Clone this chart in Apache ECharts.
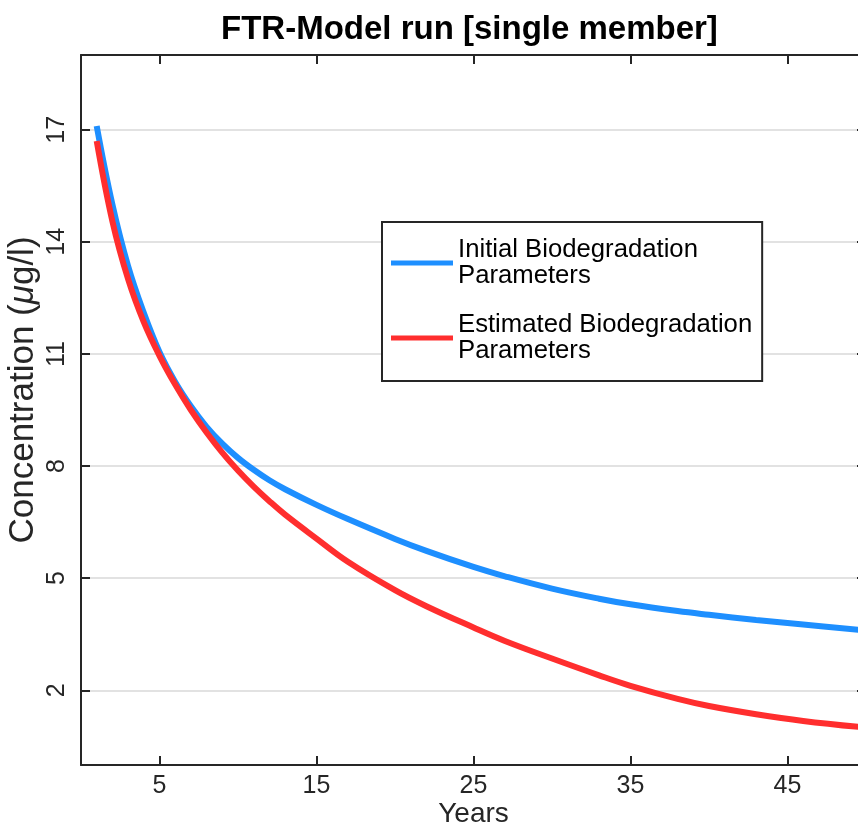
<!DOCTYPE html>
<html>
<head>
<meta charset="utf-8">
<script src="https://cdn.jsdelivr.net/npm/echarts@6/dist/echarts.min.js"></script>
<style>
  html, body { margin: 0; padding: 0; background: #fff; }
  #chart { width: 858px; height: 827px; }
</style>
</head>
<body>
<div id="chart"></div>
<script>
// 数据
const years = [1, 2, 3, 4, 5, 6, 7, 8, 9, 10, 11, 12, 13, 15, 17, 20, 22, 25, 27, 30, 33, 35, 38, 40, 43, 46, 50]
const initialParams = [17.1, 15.0, 13.35, 12.1, 11.05, 10.25, 9.6, 9.05, 8.6, 8.22, 7.9, 7.62, 7.38, 6.96, 6.58, 6.05, 5.73, 5.3, 5.05, 4.72, 4.45, 4.3, 4.12, 4.02, 3.88, 3.76, 3.6]
const estimatedParams = [16.7, 14.55, 13.0, 11.85, 10.95, 10.18, 9.5, 8.9, 8.36, 7.88, 7.45, 7.06, 6.7, 6.06, 5.44, 4.68, 4.25, 3.68, 3.32, 2.85, 2.4, 2.12, 1.77, 1.58, 1.36, 1.18, 1.0]
const xTicks = [5, 15, 25, 35, 45]
const yTicks = [2, 5, 8, 11, 14, 17]
const seriesNames = ['Initial Biodegradation\nParameters', 'Estimated Biodegradation\nParameters']

const font = 'Liberation Sans, Arial, sans-serif'
const ink = '#262626'

function pairs(xs, ys) {
    let out = []
    for (let i = 0; i < xs.length; i++) {
        out.push([xs[i], ys[i]])
    }
    return out
}

// 坐标轴的公共样式
function boxAxis(ticks, showLabel) {
    return {
        axisLine: { show: true, onZero: false, lineStyle: { color: ink, width: 2 } },
        axisTick: { show: true, inside: true, length: 9, customValues: ticks, lineStyle: { color: ink, width: 2 } },
        axisLabel: { show: showLabel, customValues: ticks },
        splitLine: { show: false }
    }
}

const chart = echarts.init(document.getElementById('chart'))

const bottomX = boxAxis(xTicks, true)
bottomX.axisLabel = { show: true, customValues: xTicks, margin: 9, color: ink, fontSize: 25, fontFamily: font }
const topX = boxAxis(xTicks, false)

const leftY = boxAxis(yTicks, true)
leftY.axisLabel = { show: true, customValues: yTicks, rotate: 90, margin: 11, color: ink, fontSize: 25, fontFamily: font }
leftY.splitLine = { show: true, lineStyle: { color: '#d9d9d9', width: 1.6 } }
const rightY = boxAxis(yTicks, false)

const option = {
    animation: false,
    backgroundColor: '#fff',
    title: {
        text: 'FTR-Model run [single member]',
        left: 216,
        top: 8,
        textStyle: { color: '#000', fontSize: 33, fontWeight: 'bold', fontFamily: font }
    },
    grid: { left: 81, top: 55, right: -8, bottom: 62, containLabel: false, outerBoundsMode: 'none' },
    legend: {
        orient: 'vertical',
        left: 382,
        top: 222,
        icon: 'rect',
        itemWidth: 62,
        itemHeight: 5,
        itemGap: 23,
        padding: [15, 10, 17, 9],
        backgroundColor: '#fff',
        borderColor: ink,
        borderWidth: 2,
        borderRadius: 0,
        textStyle: { color: '#000', fontSize: 25.7, lineHeight: 26, fontFamily: font },
        data: seriesNames
    },
    xAxis: [
        Object.assign({
            type: 'value', position: 'bottom', min: 0, max: 50,
            name: 'Years', nameLocation: 'middle', nameGap: 35, nameMoveOverlap: false,
            nameTextStyle: { color: ink, fontSize: 28, fontFamily: font }
        }, bottomX),
        Object.assign({ type: 'value', position: 'top', min: 0, max: 50 }, topX)
    ],
    yAxis: [
        Object.assign({
            type: 'value', position: 'left', min: 0, max: 19,
            name: 'Concentration ({it|μ}g/l)', nameLocation: 'middle', nameGap: 40, nameMoveOverlap: false,
            nameTextStyle: {
                color: ink, fontSize: 35, fontFamily: font, padding: [0, 0, 0, 40],
                rich: { it: { fontStyle: 'italic', fontSize: 35, fontFamily: font, color: ink } }
            }
        }, leftY),
        Object.assign({ type: 'value', position: 'right', min: 0, max: 19 }, rightY)
    ],
    series: [
        {
            name: seriesNames[0],
            type: 'line',
            data: pairs(years, initialParams),
            symbol: 'none',
            smooth: 0.4,
            color: '#1e8fff',
            lineStyle: { color: '#1e8fff', width: 6 },
            z: 3
        },
        {
            name: seriesNames[1],
            type: 'line',
            data: pairs(years, estimatedParams),
            symbol: 'none',
            smooth: 0.4,
            color: '#ff2e2e',
            lineStyle: { color: '#ff2e2e', width: 6 },
            z: 4
        }
    ]
}

chart.setOption(option)
</script>
</body>
</html>
